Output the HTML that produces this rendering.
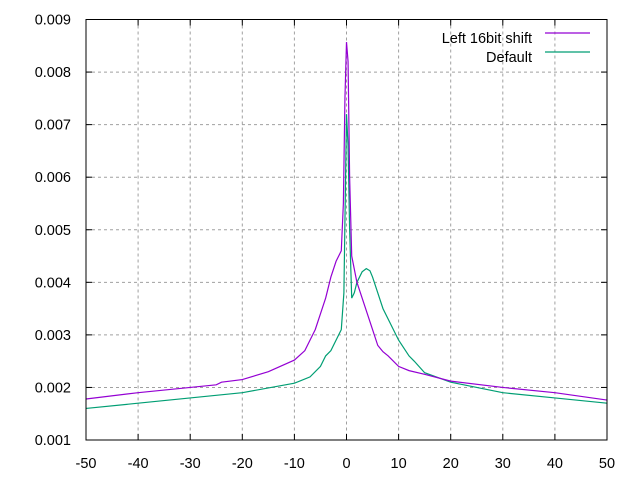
<!DOCTYPE html>
<html><head><meta charset="utf-8"><style>
html,body{margin:0;padding:0;background:#fff}
svg{display:block;font-family:"Liberation Sans",Arial,sans-serif}
</style></head><body>
<svg id="chart" width="640" height="480" viewBox="0 0 640 480" xmlns="http://www.w3.org/2000/svg"></svg>
<script>
const xTicks=[-50,-40,-30,-20,-10,0,10,20,30,40,50];
const yTicks=[0.001,0.002,0.003,0.004,0.005,0.006,0.007,0.008,0.009];
const yTickLabels=["0.001","0.002","0.003","0.004","0.005","0.006","0.007","0.008","0.009"];
const shiftX=[-50,-40,-30,-25,-24,-20,-15,-10,-8,-7,-6,-5,-4,-3,-2,-1,-0.6,-0.3,0,0.3,0.6,1,2,3,4,5,6,7,8,10,12,15,20,30,40,50];
const shiftY=[0.00178,0.0019,0.002,0.00205,0.0021,0.00215,0.0023,0.00252,0.0027,0.0029,0.0031,0.0034,0.0037,0.0041,0.0044,0.0046,0.0055,0.0075,0.00857,0.0082,0.0060,0.0045,0.0040,0.0037,0.0034,0.0031,0.0028,0.00268,0.0026,0.0024,0.00232,0.00225,0.00212,0.002,0.0019,0.00176];
const defX=[-50,-40,-30,-20,-10,-7,-5,-4,-3,-2,-1.5,-1,-0.5,0,0.3,0.6,1,1.5,2,3,3.8,4.5,5,6,7,8,10,12,13,15,20,30,40,50];
const defY=[0.0016,0.0017,0.0018,0.0019,0.00208,0.0022,0.0024,0.0026,0.0027,0.0029,0.0030,0.0031,0.0038,0.0072,0.0066,0.0050,0.0037,0.0038,0.0040,0.0042,0.00426,0.00422,0.0041,0.0038,0.0035,0.0033,0.0029,0.0026,0.0025,0.00228,0.0021,0.0019,0.0018,0.0017];
const L=86,R=607,T=19.5,B=440;
const xs=v=>L+(v+50)/100*(R-L);
const ys=v=>B-(v-0.001)/0.008*(B-T);
const svg=document.getElementById('chart');
const NS='http://www.w3.org/2000/svg';
function mk(t,a){const e=document.createElementNS(NS,t);for(const k in a)e.setAttribute(k,a[k]);svg.appendChild(e);return e;}
xTicks.forEach((v,i)=>{
  if(i>0&&i<xTicks.length-1){const g=mk('line',{x1:xs(v),x2:xs(v),y1:T,y2:B,stroke:'#a0a0a0','stroke-dasharray':'3,3'});
  
  }
  const t1=mk('line',{x1:xs(v),x2:xs(v),y1:B,y2:B-6,stroke:'#000'});
  
  
  const t2=mk('line',{x1:xs(v),x2:xs(v),y1:T,y2:T+6,stroke:'#000'});
  
  
  const tx=mk('text',{x:xs(v),y:468,'text-anchor':'middle','font-size':14.5,fill:'#000'});
  tx.textContent=String(v);
  
  
});
yTicks.forEach((v,i)=>{
  if(i>0&&i<yTicks.length-1){const g=mk('line',{x1:L,x2:R,y1:ys(v),y2:ys(v),stroke:'#a0a0a0','stroke-dasharray':'3,3'});
  
  }
  const t1=mk('line',{x1:L,x2:L+6,y1:ys(v),y2:ys(v),stroke:'#000'});
  
  
  const t2=mk('line',{x1:R,x2:R-6,y1:ys(v),y2:ys(v),stroke:'#000'});
  
  
  const tx=mk('text',{x:71,y:ys(v)+5,'text-anchor':'end','font-size':14.5,fill:'#000'});
  tx.textContent=yTickLabels[i];
  
  
});
function series(xa,ya,c,name){
  const p=mk('polyline',{points:xa.map((x,i)=>xs(x)+','+ys(ya[i])).join(' '),fill:'none',stroke:c,'stroke-width':1.2});
  
  
}
series(defX,defY,'#009e73','series-default');
series(shiftX,shiftY,'#9400d3','series-left-16bit-shift');
const fr=mk('rect',{x:L,y:T,width:R-L,height:B-T,fill:'none',stroke:'#000'});


const lg=[["Left 16bit shift",'#9400d3',38],["Default",'#009e73',57]];
lg.forEach(d=>{
  const t=mk('text',{x:532,y:d[2]+5,'text-anchor':'end','font-size':14.5,fill:'#000'});
  t.textContent=d[0];
  
  
  const l=mk('line',{x1:545,x2:590,y1:d[2]-5,y2:d[2]-5,stroke:d[1],'stroke-width':1.2});
  
  
});
</script>
</body></html>
